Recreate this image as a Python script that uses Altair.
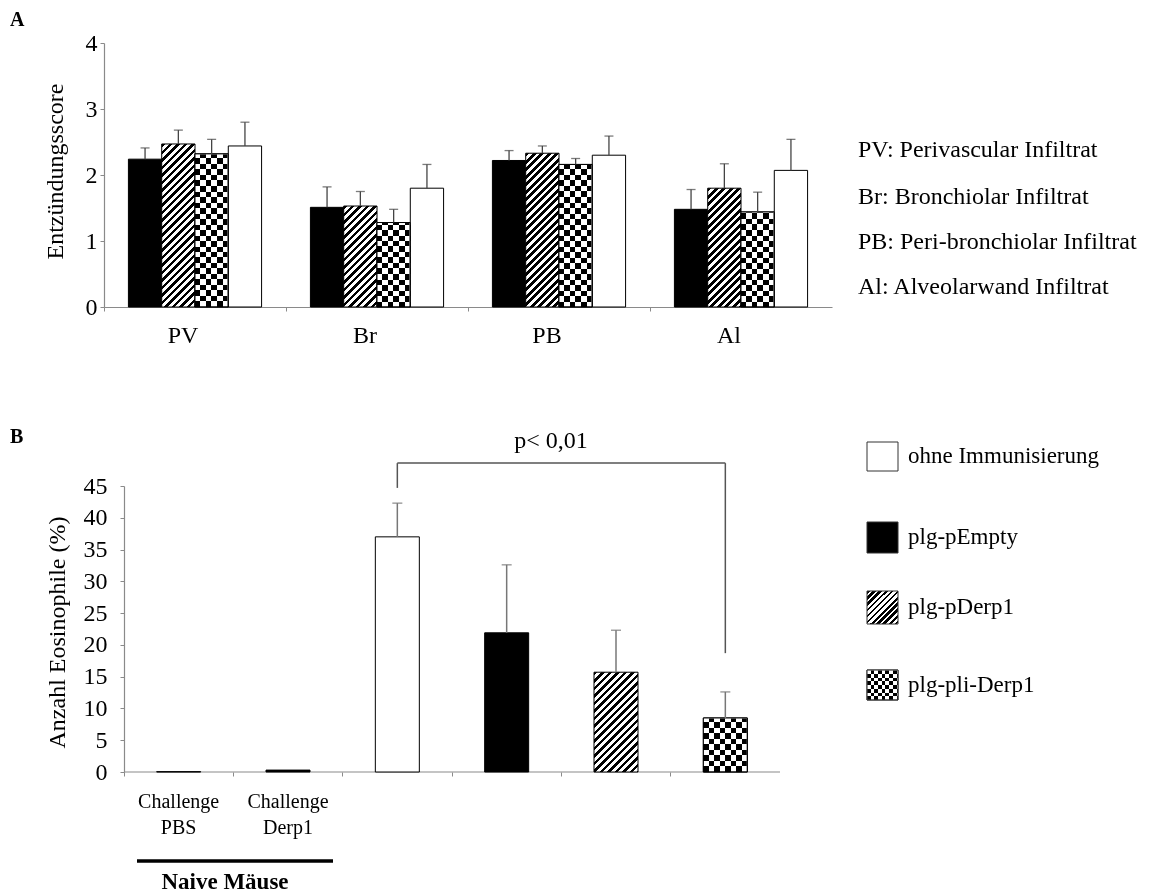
import math
import altair as alt

FONT = "Liberation Serif"

# ---------------- data: panel A ----------------
CATS_A = ["PV", "Br", "PB", "Al"]
SERIES_A = ["plg-pEmpty", "plg-pDerp1", "plg-pli-Derp1", "ohne Immunisierung"]
A_EMPTY = [2.24, 1.51, 2.22, 1.48]
A_DERP1 = [2.47, 1.53, 2.33, 1.80]
A_PLI = [2.32, 1.28, 2.16, 1.44]
A_OHNE = [2.44, 1.80, 2.30, 2.07]
A_EMPTY_SD = [0.17, 0.31, 0.15, 0.30]
A_DERP1_SD = [0.21, 0.22, 0.11, 0.37]
A_PLI_SD = [0.22, 0.20, 0.09, 0.30]
A_OHNE_SD = [0.36, 0.36, 0.29, 0.47]
A_TICKS = [0, 1, 2, 3, 4]
A_LEGEND = ["PV: Perivascular Infiltrat", "Br: Bronchiolar Infiltrat",
            "PB: Peri-bronchiolar Infiltrat", "Al: Alveolarwand Infiltrat"]

# ---------------- data: panel B ----------------
CATS_B = ["Challenge PBS", "Challenge Derp1", "ohne Immunisierung",
          "plg-pEmpty", "plg-pDerp1", "plg-pli-Derp1"]
B_MEAN = [0.05, 0.3, 37.0, 21.9, 15.7, 8.5]
B_SD = [0.0, 0.0, 5.3, 10.7, 6.6, 4.1]
B_TICKS = [0, 5, 10, 15, 20, 25, 30, 35, 40, 45]
LEGEND_B = ["ohne Immunisierung", "plg-pEmpty", "plg-pDerp1", "plg-pli-Derp1"]
P_TEXT = "p< 0,01"
BR_LEFT, BR_RIGHT = "ohne Immunisierung", "plg-pli-Derp1"
BR_TOP, BR_LEFT_LOW, BR_RIGHT_LOW = 48.6, 44.7, 18.7

# ---------------- styles ----------------
STYLE = {"ohne Immunisierung": "white", "plg-pEmpty": "black", "plg-pDerp1": "hatch",
         "plg-pli-Derp1": "check", "Challenge PBS": "black", "Challenge Derp1": "black"}

W_A, H_A = 728, 264
OFF_B = 20                 # B's y axis sits 20px right of A's
W_B, H_B = 656 + OFF_B, 286
PO_A = 0.733
BAR_A = W_A / len(CATS_A) / (len(SERIES_A) + 2 * PO_A)
BAR_B = 44
HATCH_P = 7.5
CHECK_S = 5.5
AXIS_GRAY = "#8a8a8a"


def stops_from_edges(edges, colors, scale):
    st = []
    for j in range(len(colors)):
        a = min(edges[j] / scale, 1.0)
        b = min(edges[j + 1] / scale, 1.0)
        st.append({"offset": round(a, 5), "color": colors[j]})
        st.append({"offset": round(b, 5), "color": colors[j]})
    return st


def alt_edges(total, seg_a, seg_b):
    edges, colors = [0.0], []
    pos, k = 0.0, 0
    while pos < total:
        seg = seg_a if k % 2 == 0 else seg_b
        pos = min(pos + seg, total)
        edges.append(pos)
        colors.append("black" if k % 2 == 0 else "white")
        k += 1
    return edges, colors


def hatch_grad(w, h, period=HATCH_P, frac=0.5):
    D = (w * w + h * h) / w
    L = w + h
    c = max(1.0, L / D)
    edges, colors = alt_edges(L, frac * period, (1 - frac) * period)
    return {"gradient": "linear", "x1": 0, "y1": 0, "x2": round(c, 5), "y2": round(c * h / w, 5),
            "stops": stops_from_edges(edges, colors, c * D)}


def vstripes(w, s=CHECK_S):
    edges, colors = alt_edges(w, s, s)
    return {"gradient": "linear", "x1": 0, "y1": 0, "x2": 1, "y2": 0,
            "stops": stops_from_edges(edges, colors, w)}


def hstripes(h, s=CHECK_S):
    n = int(math.ceil(h / s - 1e-9))
    edges, colors = [0.0], []
    for k in range(n - 1, -1, -1):
        edges.append(h - k * s)
        colors.append("black" if k % 2 == 0 else "white")
    return {"gradient": "linear", "x1": 0, "y1": 0, "x2": 0, "y2": 1,
            "stops": stops_from_edges(edges, colors, h)}


def fills(kind, w, h, s=CHECK_S, period=HATCH_P):
    h = max(h, 0.5)
    if kind == "hatch":
        return hatch_grad(w, h, period), None
    if kind == "check":
        return vstripes(w, s), hstripes(h, s)
    return kind, None


one = alt.Data(values=[{"k": 1}])

# ---------------- panel A ----------------
a_vals = {"plg-pEmpty": (A_EMPTY, A_EMPTY_SD), "plg-pDerp1": (A_DERP1, A_DERP1_SD),
          "plg-pli-Derp1": (A_PLI, A_PLI_SD), "ohne Immunisierung": (A_OHNE, A_OHNE_SD)}
recs_a = []
for i, cat in enumerate(CATS_A):
    for s in SERIES_A:
        v, sd = a_vals[s][0][i], a_vals[s][1][i]
        f, o = fills(STYLE[s], BAR_A, v * H_A / 4)
        r = {"cat": cat, "series": s, "v": v, "sd": sd, "pat": f}
        if o is not None:
            r["ovl"] = o
        recs_a.append(r)

baseA = alt.Chart(alt.Data(values=recs_a))
axisAx = alt.Axis(title=None, labelAngle=0, bandPosition=0, tickSize=4, labelFontSize=24,
                  labelPadding=12, labelOffset=-12, labelBaseline="top")
xA = alt.X("cat:N", sort=CATS_A, scale=alt.Scale(domain=CATS_A, paddingInner=0, paddingOuter=0),
           axis=axisAx)
xoA = alt.XOffset("series:N", sort=SERIES_A,
                  scale=alt.Scale(domain=SERIES_A, paddingInner=0, paddingOuter=PO_A))
yscA = alt.Scale(domain=[0, 4], nice=False, zero=True)
axisAy = alt.Axis(title="Entzündungsscore", values=A_TICKS, format="d", tickSize=4,
                  labelFontSize=24, labelPadding=3, labelOverlap=False,
                  titleFontSize=24, titleFontWeight="normal",
                  titleX=-49, titleY=128, titleAlign="center", titleBaseline="middle",
                  titleAngle=270)


def yA(field):
    return alt.Y(field, scale=yscA, axis=axisAy)


barsA = baseA.mark_bar(stroke="black", strokeWidth=1).encode(
    x=xA, xOffset=xoA, y=yA("v:Q"), fill=alt.Fill("pat:N", scale=None))
ovlA = baseA.transform_filter("isValid(datum.ovl)").mark_bar(strokeWidth=0, blend="difference").encode(
    x=xA, xOffset=xoA, y=yA("v:Q"), fill=alt.Fill("ovl:N", scale=None))
outA = baseA.transform_filter("isValid(datum.ovl)").mark_bar(
    fillOpacity=0, stroke="black", strokeWidth=1).encode(x=xA, xOffset=xoA, y=yA("v:Q"))
errA = baseA.transform_calculate(hi="datum.v + datum.sd").mark_rule(color="#444", strokeWidth=1.3).encode(
    x=xA, xOffset=xoA, y=yA("v:Q"), y2="hi:Q")
capA = baseA.transform_calculate(hi="datum.v + datum.sd").mark_tick(
    color="#444", size=9, thickness=1.3).encode(x=xA, xOffset=xoA, y=yA("hi:Q"))

labA = alt.Chart(one).mark_text(text="A", font=FONT, fontSize=20, fontWeight="bold",
                                align="left", baseline="middle").encode(
    x=alt.value(-94), y=alt.value(-23))
legA = [alt.Chart(one).mark_text(text=t, font=FONT, fontSize=24, align="left",
                                 baseline="middle").encode(x=alt.value(754), y=alt.value(yy))
        for t, yy in zip(A_LEGEND, [107, 154, 199, 244])]

chartA = alt.layer(barsA, ovlA, outA, errA, capA, labA, *legA).properties(width=W_A, height=H_A)

# ---------------- panel B ----------------
recs_b = []
for c, v, sd in zip(CATS_B, B_MEAN, B_SD):
    f, o = fills(STYLE[c], BAR_B, v * H_B / 45)
    r = {"cat": c, "v": v, "sd": sd, "pat": f}
    if o is not None:
        r["ovl"] = o
    recs_b.append(r)

baseB = alt.Chart(alt.Data(values=recs_b))
xscB = alt.Scale(domain=CATS_B, range=[OFF_B, W_B], paddingInner=0, paddingOuter=0)
axisBx = alt.Axis(title=None, labelAngle=0, bandPosition=0, tickSize=4, domain=False,
                  labelExpr="indexof(datum.value, 'Challenge') == 0 ? split(datum.value, ' ') : ''",
                  labelFontSize=20, labelLineHeight=26, labelPadding=15, labelBaseline="top")
xB = alt.X("cat:N", sort=CATS_B, scale=xscB, axis=axisBx)
yscB = alt.Scale(domain=[0, 45], nice=False, zero=True)
axisBy = alt.Axis(title="Anzahl Eosinophile (%)", values=B_TICKS, format="d", tickSize=4,
                  offset=-OFF_B, labelFontSize=24, labelPadding=13, labelOverlap=False,
                  titleFontSize=24, titleFontWeight="normal",
                  titleX=-67, titleY=146, titleAlign="center", titleBaseline="middle",
                  titleAngle=270)


def yB(field):
    return alt.Y(field, scale=yscB, axis=axisBy)


baseline_B = alt.Chart(one).mark_rule(color=AXIS_GRAY, strokeWidth=1.2).encode(
    x=alt.value(OFF_B), x2=alt.value(W_B), y=alt.value(H_B))
barsB = baseB.mark_bar(width=BAR_B, stroke="black", strokeWidth=1).encode(
    x=xB, y=yB("v:Q"), fill=alt.Fill("pat:N", scale=None))
ovlB = baseB.transform_filter("isValid(datum.ovl)").mark_bar(
    width=BAR_B, strokeWidth=0, blend="difference").encode(
    x=xB, y=yB("v:Q"), fill=alt.Fill("ovl:N", scale=None))
outB = baseB.transform_filter("isValid(datum.ovl)").mark_bar(
    width=BAR_B, fillOpacity=0, stroke="black", strokeWidth=1).encode(x=xB, y=yB("v:Q"))
errB = baseB.transform_filter("datum.sd > 0").transform_calculate(hi="datum.v + datum.sd").mark_rule(
    color="#777", strokeWidth=1.5).encode(x=xB, y=yB("v:Q"), y2="hi:Q")
capB = baseB.transform_filter("datum.sd > 0").transform_calculate(hi="datum.v + datum.sd").mark_tick(
    color="#777", size=10, thickness=1.5).encode(x=xB, y=yB("hi:Q"))

br = alt.Chart(alt.Data(values=[
    {"cat": BR_LEFT, "x2": BR_LEFT, "y": BR_LEFT_LOW, "y2": BR_TOP},
    {"cat": BR_LEFT, "x2": BR_RIGHT, "y": BR_TOP, "y2": BR_TOP},
    {"cat": BR_RIGHT, "x2": BR_RIGHT, "y": BR_TOP, "y2": BR_RIGHT_LOW},
])).mark_rule(color="#555", strokeWidth=1.5).encode(
    x=xB, x2="x2:N", y=yB("y:Q"), y2="y2:Q")

ptext = alt.Chart(one).mark_text(text=P_TEXT, font=FONT, fontSize=24, align="center",
                                 baseline="middle").encode(x=alt.value(447), y=alt.value(-45))
labB = alt.Chart(one).mark_text(text="B", font=FONT, fontSize=20, fontWeight="bold",
                                align="left", baseline="middle").encode(
    x=alt.value(-94), y=alt.value(-49))

# legend B
sw_pos = [(-44, -15), (36, 67), (105, 138), (184, 214)]
sw_txt_y = [-30, 51, 121, 199]
legB = []
for name, (t, b), ty in zip(LEGEND_B, sw_pos, sw_txt_y):
    kind = STYLE[name]
    w = 31
    h = b - t
    if kind == "check":
        f, o = fills(kind, w, h, s=3.7)
    else:
        f, o = fills(kind, w, h, period=6.0)
    enc = dict(x=alt.value(763), x2=alt.value(763 + w), y=alt.value(t), y2=alt.value(b))
    legB.append(alt.Chart(one).mark_rect(fill=f, stroke="#333", strokeWidth=1).encode(**enc))
    if o is not None:
        legB.append(alt.Chart(one).mark_rect(fill=o, strokeWidth=0, blend="difference").encode(**enc))
        legB.append(alt.Chart(one).mark_rect(fillOpacity=0, stroke="#333", strokeWidth=1).encode(**enc))
    legB.append(alt.Chart(one).mark_text(text=name, font=FONT, fontSize=23, align="left",
                                         baseline="middle").encode(x=alt.value(804), y=alt.value(ty)))

naive_line = alt.Chart(one).mark_rule(color="black", strokeWidth=3.5).encode(
    x=alt.value(33), x2=alt.value(229), y=alt.value(375))
naive_txt = alt.Chart(one).mark_text(text="Naive Mäuse", font=FONT, fontSize=23, fontWeight="bold",
                                     align="center", baseline="middle").encode(
    x=alt.value(121), y=alt.value(396))

chartB = alt.layer(baseline_B, barsB, ovlB, outB, errB, capB, br, ptext, labB, naive_line, naive_txt,
                   *legB).properties(width=W_B, height=H_B)

chart = alt.vconcat(chartA, chartB, spacing=80).properties(
    padding={"left": 2, "top": 2, "right": 5, "bottom": 0}
).configure_view(stroke=None).configure_axis(
    grid=False, domainColor=AXIS_GRAY, tickColor=AXIS_GRAY, labelColor="black",
    titleColor="black", labelFont=FONT, titleFont=FONT, domainWidth=1.2
).configure_text(font=FONT)

chart.save("out.html", embed_options={"renderer": "svg", "actions": False})
